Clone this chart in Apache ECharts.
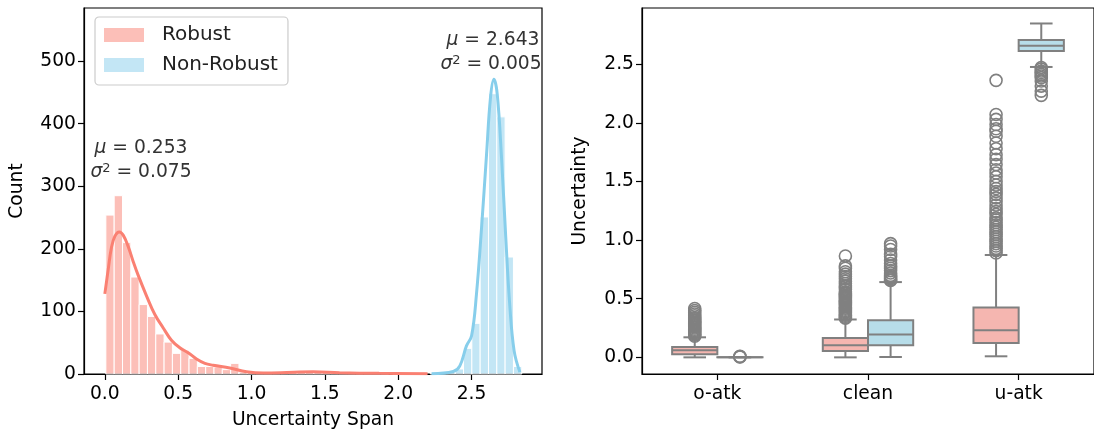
<!DOCTYPE html>
<html>
<head>
<meta charset="utf-8">
<script src="https://cdn.jsdelivr.net/npm/echarts@6/dist/echarts.min.js"></script>
<style>
html, body { margin: 0; padding: 0; background: #fff; }
#main { width: 1094px; height: 437px; }
</style>
</head>
<body>
<div id="main"></div>
<script>
// histogram: 50 shared bins
const binStart = 0.007;
const binWidth = 0.0567;
const robustCounts = [254, 285, 210, 155, 111, 92, 64, 51, 33, 38,
	25, 12, 12, 11, 7, 17, 3, 3, 2, 1,
	2, 2, 3, 3, 4, 3, 4, 2, 2, 1,
	2, 1, 1, 1, 0, 1, 0, 0, 0, 0,
	0, 0, 0, 0, 0, 0, 0, 0, 0, 0];
const nonRobustCounts = [0, 0, 0, 0, 0, 0, 0, 0, 0, 0,
	0, 0, 0, 0, 0, 0, 0, 0, 0, 0,
	0, 0, 0, 0, 0, 0, 0, 0, 0, 0,
	0, 0, 0, 0, 0, 0, 0, 0, 0, 1,
	1, 3, 8, 41, 81, 251, 448, 411, 187, 12];
// kde curves (scaled to counts)
const robustKde = [[0.0, 128], [0.023, 167], [0.045, 202], [0.068, 220], [0.098, 227], [0.125, 222],
	[0.159, 204], [0.193, 180], [0.227, 158], [0.284, 125], [0.341, 95], [0.397, 74], [0.454, 54],
	[0.511, 42], [0.568, 34], [0.625, 24], [0.682, 17], [0.738, 14], [0.852, 9.6], [0.966, 3.7],
	[1.08, 1.6], [1.2, 2], [1.42, 3.5], [1.6, 2], [1.87, 1], [2.2, 0.3]];
const nonRobustKde = [[2.227, 0.5], [2.375, 4], [2.42, 13], [2.465, 45], [2.5, 61], [2.533, 127],
	[2.568, 234], [2.602, 351], [2.629, 442], [2.652, 471], [2.675, 447], [2.704, 346],
	[2.733, 218], [2.76, 111], [2.79, 37], [2.829, 3]];
const spanTicks = [0, 0.5, 1, 1.5, 2, 2.5];
const countTicks = [0, 100, 200, 300, 400, 500];

// boxplot: [min, q1, median, q3, max] per group
const groups = ['o-atk', 'clean', 'u-atk'];
const robustBox = [[0.0, 0.026, 0.06, 0.088, 0.171], [0.0, 0.054, 0.103, 0.165, 0.323], [0.009, 0.122, 0.231, 0.425, 0.873]];
const nonRobustBox = [[0.0, 0.0005, 0.001, 0.0015, 0.002], [0.003, 0.103, 0.194, 0.317, 0.642], [2.477, 2.614, 2.657, 2.708, 2.848]];
const robustOutliers = [
	[0.417, 0.40, 0.385, 0.37, 0.355, 0.34, 0.33, 0.32, 0.31, 0.30, 0.29, 0.28, 0.27, 0.26, 0.25, 0.24, 0.23, 0.22, 0.21, 0.2, 0.19, 0.18],
	[0.865, 0.78, 0.76, 0.73, 0.71, 0.69, 0.67, 0.65, 0.63, 0.61, 0.6, 0.58, 0.56, 0.55, 0.54, 0.53, 0.52, 0.51, 0.50, 0.49, 0.48, 0.47, 0.46, 0.45, 0.44, 0.43, 0.42, 0.41, 0.40, 0.39, 0.38, 0.37, 0.36, 0.35, 0.34, 0.335],
	[2.363, 2.072, 2.03, 1.986, 1.95, 1.929, 1.886, 1.829, 1.78, 1.729, 1.69, 1.644, 1.6, 1.572, 1.54, 1.501, 1.47, 1.44, 1.415, 1.39, 1.36, 1.33, 1.3, 1.27, 1.244, 1.22, 1.19, 1.173, 1.15, 1.13, 1.11, 1.09, 1.07, 1.05, 1.03, 1.01, 0.99, 0.97, 0.95, 0.93, 0.91, 0.89]
];
const nonRobustOutliers = [
	[0.004, 0.006, 0.008],
	[0.97, 0.95, 0.92, 0.88, 0.86, 0.83, 0.80, 0.78, 0.76, 0.74, 0.72, 0.70, 0.69, 0.68, 0.67, 0.66, 0.655],
	[2.472, 2.46, 2.443, 2.43, 2.414, 2.4, 2.386, 2.357, 2.314, 2.271, 2.235]
];

const FONT = 'DejaVu Sans';
const FS = 18.7;
const GRAY = '#808080';
const axisCommon = {
	axisLine: { show: true, onZero: false, lineStyle: { color: '#000', width: 1.2 } },
	axisTick: { show: true, length: 6, lineStyle: { color: '#000', width: 1.2 } },
	splitLine: { show: false },
	nameTextStyle: { fontFamily: FONT, fontSize: FS, color: '#000' }
};
const labelCommon = { fontFamily: FONT, fontSize: FS, color: '#000' };

function histSeries(name, counts, color) {
	return {
		name: name,
		type: 'custom',
		xAxisIndex: 0,
		yAxisIndex: 0,
		itemStyle: { color: color },
		encode: { x: 0, y: 1 },
		data: counts.map((c, i) => [binStart + i * binWidth, c]).filter(d => d[1] > 0),
		renderItem: function (params, api) {
			const lo = api.value(0);
			const p0 = api.coord([lo, api.value(1)]);
			const p1 = api.coord([lo + binWidth, 0]);
			return {
				type: 'rect',
				shape: { x: p0[0], y: p0[1], width: p1[0] - p0[0], height: p1[1] - p0[1] },
				style: { fill: color, stroke: '#fff', lineWidth: 1 }
			};
		}
	};
}

function kdeSeries(name, pts, color) {
	return {
		name: name,
		type: 'line',
		xAxisIndex: 0,
		yAxisIndex: 0,
		data: pts,
		smooth: 0.4,
		symbol: 'none',
		lineStyle: { color: color, width: 3 },
		z: 5
	};
}

function boxSeries(name, stats, fill, offset) {
	return {
		name: name,
		type: 'custom',
		xAxisIndex: 1,
		yAxisIndex: 1,
		data: stats.map((s, i) => [i].concat(s)),
		encode: { x: 0, y: [1, 2, 3, 4, 5] },
		renderItem: function (params, api) {
			const ci = api.value(0);
			const band = api.size([1, 0])[0];
			const cx = api.coord([ci, 0])[0] + offset * band;
			const hw = 0.15 * band;
			const cw = 0.075 * band;
			const y = v => api.coord([ci, v])[1];
			const yMin = y(api.value(1)), yQ1 = y(api.value(2)), yMed = y(api.value(3)), yQ3 = y(api.value(4)), yMax = y(api.value(5));
			const ls = { stroke: GRAY, lineWidth: 2 };
			return {
				type: 'group',
				children: [
					{ type: 'line', shape: { x1: cx, y1: yMax, x2: cx, y2: yQ3 }, style: ls },
					{ type: 'line', shape: { x1: cx, y1: yQ1, x2: cx, y2: yMin }, style: ls },
					{ type: 'line', shape: { x1: cx - cw, y1: yMax, x2: cx + cw, y2: yMax }, style: ls },
					{ type: 'line', shape: { x1: cx - cw, y1: yMin, x2: cx + cw, y2: yMin }, style: ls },
					{ type: 'rect', shape: { x: cx - hw, y: yQ3, width: 2 * hw, height: yQ1 - yQ3 }, style: { fill: fill, stroke: GRAY, lineWidth: 2 } },
					{ type: 'line', shape: { x1: cx - hw, y1: yMed, x2: cx + hw, y2: yMed }, style: ls }
				]
			};
		}
	};
}

function outlierSeries(name, outs, offset) {
	const data = [];
	outs.forEach((arr, i) => arr.forEach(v => data.push([i, v])));
	return {
		name: name,
		type: 'custom',
		xAxisIndex: 1,
		yAxisIndex: 1,
		data: data,
		encode: { x: 0, y: 1 },
		z: 4,
		renderItem: function (params, api) {
			const band = api.size([1, 0])[0];
			const p = api.coord([api.value(0), api.value(1)]);
			return {
				type: 'circle',
				shape: { cx: p[0] + offset * band, cy: p[1], r: 6 },
				style: { fill: 'none', stroke: GRAY, lineWidth: 1.6 }
			};
		}
	};
}

function note(x, y, sym, sup, val) {
	const rich = {
		i: { fontStyle: 'italic', fontFamily: FONT, fontSize: FS, fill: '#333' },
		s: { fontFamily: FONT, fontSize: 13, fill: '#333', verticalAlign: 'top', padding: [0, 0, 6, 0] },
		n: { fontFamily: FONT, fontSize: FS, fill: '#333' }
	};
	const text = '{i|' + sym + '}' + (sup ? '{s|' + sup + '}' : '') + '{n| = ' + val + '}';
	return { type: 'text', x: x, y: y, style: { text: text, rich: rich, fontFamily: FONT, fontSize: FS, fill: '#333', align: 'center', verticalAlign: 'middle' } };
}

const chart = echarts.init(document.getElementById('main'), null, { renderer: 'canvas' });
chart.setOption({
	backgroundColor: '#fff',
	animation: false,
	textStyle: { fontFamily: FONT },
	legend: {
		data: ['Robust', 'Non-Robust'],
		orient: 'vertical',
		left: 95,
		top: 17,
		icon: 'rect',
		itemWidth: 40,
		itemHeight: 14,
		itemGap: 10,
		padding: [8, 10, 10, 9],
		borderColor: '#cccccc',
		borderWidth: 1.2,
		borderRadius: 4,
		backgroundColor: 'rgba(255,255,255,0.8)',
		textStyle: { fontFamily: FONT, fontSize: 20, color: '#222', padding: [0, 0, 0, 13] }
	},
	grid: [
		{ left: 84, top: 8, width: 458, height: 366, show: true, borderColor: '#000', borderWidth: 1.2, containLabel: false },
		{ left: 642, top: 8, width: 456, height: 366, show: true, borderColor: '#000', borderWidth: 1.2, containLabel: false }
	],
	xAxis: [
		Object.assign({}, axisCommon, {
			type: 'value', gridIndex: 0, min: -0.142, max: 2.98,
			name: 'Uncertainty Span', nameLocation: 'middle', nameGap: 37,
			axisTick: Object.assign({}, axisCommon.axisTick, { customValues: spanTicks }),
			axisLabel: Object.assign({}, labelCommon, { margin: 11, customValues: spanTicks, formatter: v => v.toFixed(1) })
		}),
		Object.assign({}, axisCommon, {
			type: 'category', gridIndex: 1, data: groups,
			axisTick: Object.assign({}, axisCommon.axisTick, { alignWithLabel: true }),
			axisLabel: Object.assign({}, labelCommon, { margin: 11 })
		})
	],
	yAxis: [
		Object.assign({}, axisCommon, {
			type: 'value', gridIndex: 0, min: 0, max: 585,
			name: 'Count', nameLocation: 'middle', nameGap: 57,
			axisTick: Object.assign({}, axisCommon.axisTick, { customValues: countTicks }),
			axisLabel: Object.assign({}, labelCommon, { margin: 8, customValues: countTicks })
		}),
		Object.assign({}, axisCommon, {
			type: 'value', gridIndex: 1, min: -0.142, max: 2.98,
			name: 'Uncertainty', nameLocation: 'middle', nameGap: 52,
			axisTick: Object.assign({}, axisCommon.axisTick, { customValues: spanTicks }),
			axisLabel: Object.assign({}, labelCommon, { margin: 8, customValues: spanTicks, formatter: v => v.toFixed(1) })
		})
	],
	graphic: [
		note(141, 148, 'μ', '', '0.253'),
		note(141, 172, 'σ', '2', '0.075'),
		note(493, 40, 'μ', '', '2.643'),
		note(491, 64, 'σ', '2', '0.005')
	],
	series: [
		histSeries('Robust', robustCounts, 'rgba(250,128,114,0.5)'),
		histSeries('Non-Robust', nonRobustCounts, 'rgba(135,206,235,0.5)'),
		kdeSeries('Robust KDE', robustKde, '#fa8072'),
		kdeSeries('Non-Robust KDE', nonRobustKde, '#87ceeb'),
		boxSeries('Robust box', robustBox, '#f5b6b0', -0.15),
		boxSeries('Non-Robust box', nonRobustBox, '#b7dde9', 0.15),
		outlierSeries('Robust outliers', robustOutliers, -0.15),
		outlierSeries('Non-Robust outliers', nonRobustOutliers, 0.15)
	]
});
</script>
</body>
</html>
